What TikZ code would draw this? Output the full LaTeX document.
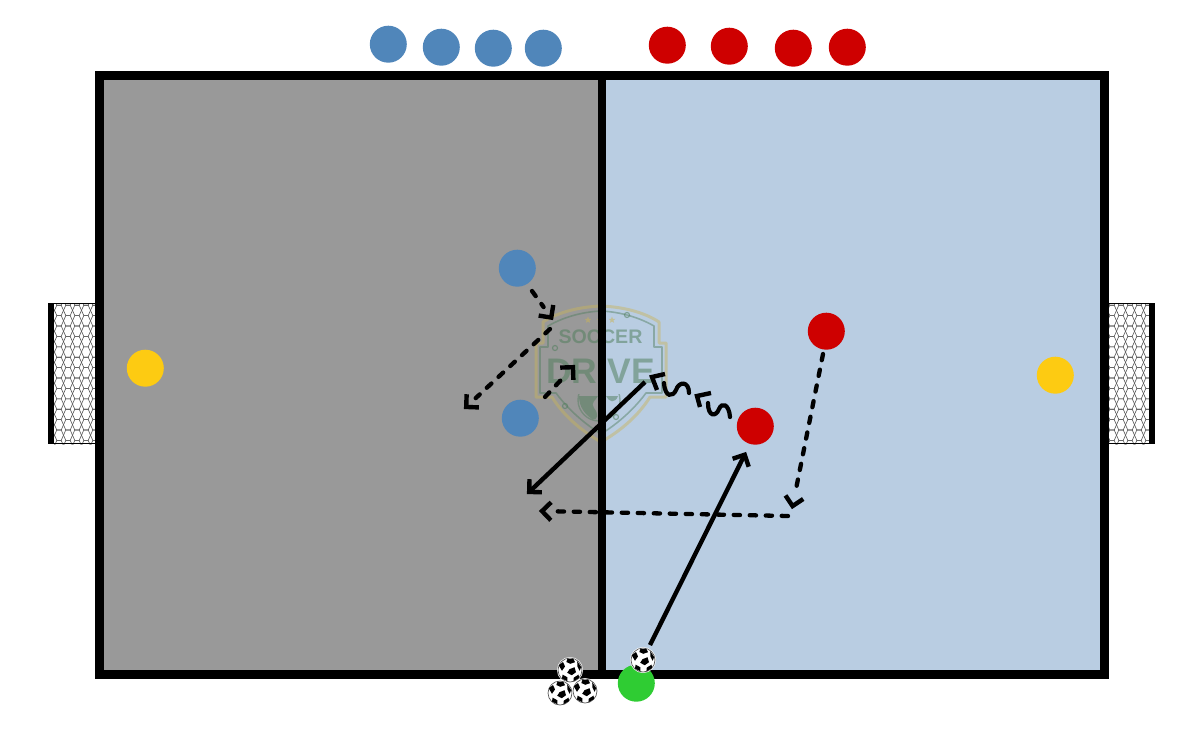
\documentclass[tikz,border=0pt]{standalone}
\usepackage{fontspec}
\setmainfont{Liberation Sans}
\usetikzlibrary{arrows.meta,shapes.geometric}
\definecolor{leftfield}{HTML}{999999}
\definecolor{rightfield}{HTML}{B9CDE2}
\definecolor{teamblue}{HTML}{5086BA}
\definecolor{teamred}{HTML}{CE0000}
\definecolor{keeper}{HTML}{FDCB12}
\definecolor{server}{HTML}{2FCC33}
\definecolor{logogold}{HTML}{C9B45A}
\definecolor{logogreen}{HTML}{4F7D5B}
\pgfdeclarearrow{
  name=ChevSolid,
  setup code={\pgfarrowssettipend{3pt}\pgfarrowssetlineend{-1.5pt}\pgfarrowssetvisualbackend{-9pt}\pgfarrowssetbackend{-10pt}},
  drawing code={\pgfsetdash{}{0pt}\pgfsetlinewidth{4.4pt}\pgfsetmiterjoin\pgfsetbuttcap
    \pgfpathmoveto{\pgfpoint{-9pt}{9pt}}\pgfpathlineto{\pgfpoint{0pt}{0pt}}\pgfpathlineto{\pgfpoint{-9pt}{-9pt}}\pgfusepathqstroke}
}
\pgfdeclarearrow{
  name=ChevDash,
  setup code={\pgfarrowssettipend{3pt}\pgfarrowssetlineend{-13pt}\pgfarrowssetvisualbackend{-9pt}\pgfarrowssetbackend{-10pt}},
  drawing code={\pgfsetdash{}{0pt}\pgfsetlinewidth{4.4pt}\pgfsetmiterjoin\pgfsetbuttcap
    \pgfpathmoveto{\pgfpoint{-9pt}{9pt}}\pgfpathlineto{\pgfpoint{0pt}{0pt}}\pgfpathlineto{\pgfpoint{-9pt}{-9pt}}\pgfusepathqstroke}
}
\tikzset{
  player/.style={circle,inner sep=0pt,minimum size=37pt,fill=#1,draw=none,xshift=.3pt,yshift=-.2pt},
  run/.style={line width=4.3pt,line cap=round,dash pattern=on 6.3pt off 9.7pt,-{ChevDash}},
  pass/.style={line width=4.4pt,-{ChevSolid}},
  dribble/.style={line width=4.2pt,line cap=round},
  barb/.style={line width=4.4pt,line join=miter},
  netline/.style={line width=0.6pt,draw=black!68},
  logoouter/.style={draw=logogold,line width=3pt,opacity=.45,line join=round},
  logoinner/.style={draw=logogreen,line width=1.6pt,opacity=.45,line join=round},
  logotext/.style={text=logogreen,text opacity=.52,inner sep=0pt},
  logostar/.style={star,star points=5,star point ratio=2.4,fill=logogold,opacity=.55,minimum size=7pt,inner sep=0pt},
  logodot/.style={circle,draw=logogreen,line width=1.2pt,opacity=.55,minimum size=5pt,inner sep=0pt},
  ball/.pic={
    \fill[white] (0,0) circle (13);
    \draw[black!65,line width=.7pt] (0,0) circle (12);
    \fill (-.5,-.8) -- (4.5,-2.8) -- (6,2.2) -- (1.8,5.2) -- (-2.8,2.8) -- cycle;
    \fill (-2.5,-11.3) -- (3.5,-11) -- (5,-7.8) -- (.3,-6.2) -- (-3.6,-8) -- cycle;
    \fill (7.2,-8.8) -- (11.2,-3) -- (9.6,.8) -- (7.4,-3.6) -- cycle;
    \fill (-11.2,-4.6) -- (-7,-8) -- (-5,-3.6) -- (-8,.8) -- cycle;
    \fill (-8,8.6) -- (-2.6,11.2) -- (-2.6,7.3) -- (-7.4,4.6) -- cycle;
    \fill (3.4,11.4) -- (9,8) -- (8.6,4.6) -- (3.8,7.6) -- cycle;
  }
}
\begin{document}
\begin{tikzpicture}[x=1pt,y=-1pt]
\useasboundingbox (0,0) rectangle (1200,750);
% fields
\fill[leftfield] (99,76) rectangle (602,674);
\fill[rightfield] (602,76) rectangle (1104,674);
% goals
\begin{scope}
  \clip (54,304) rectangle (96,444);
  \foreach \c in {0,...,6}{\foreach \r in {0,...,20}{
    \pgfmathsetmacro{\xx}{50+\c*9}
    \pgfmathsetmacro{\yy}{300+\r*10.4}
    \draw[netline] (\xx-4.5,\yy) -- (\xx-2.2,\yy-5.2) -- (\xx+2.2,\yy-5.2) -- (\xx+4.5,\yy) -- (\xx+2.2,\yy+5.2) -- (\xx-2.2,\yy+5.2) -- cycle;
  }}
\end{scope}
\begin{scope}
  \clip (1107,304) rectangle (1149,444);
  \foreach \c in {0,...,6}{\foreach \r in {0,...,20}{
    \pgfmathsetmacro{\xx}{1103+\c*9}
    \pgfmathsetmacro{\yy}{300+\r*10.4}
    \draw[netline] (\xx-4.5,\yy) -- (\xx-2.2,\yy-5.2) -- (\xx+2.2,\yy-5.2) -- (\xx+4.5,\yy) -- (\xx+2.2,\yy+5.2) -- (\xx-2.2,\yy+5.2) -- cycle;
  }}
\end{scope}
\fill (48,303) rectangle (54,444);
\fill (1149,303) rectangle (1154.5,444);
\draw[line width=1pt] (48,303.5) -- (96,303.5) (48,443.7) -- (96,443.7);
\draw[line width=1pt] (1107,303.5) -- (1154,303.5) (1107,443.7) -- (1154,443.7);
% logo
\draw[logoouter] (601,306) .. controls (575,307) and (555,314) .. (543,322) -- (543,343) -- (536,343) -- (536,397) -- (552,397) .. controls (565,418) and (585,433) .. (601,442) .. controls (617,433) and (637,418) .. (650,397) -- (666,397) -- (666,343) -- (659,343) -- (659,322) .. controls (647,314) and (627,307) .. (601,306) -- cycle;
\draw[logoinner] (601,311) .. controls (580,312) and (562,318) .. (548,326) -- (548,347) -- (540,347) -- (540,393) -- (556,393) .. controls (570,412) and (588,426) .. (601,434) .. controls (614,426) and (632,412) .. (646,393) -- (662,393) -- (662,347) -- (654,347) -- (654,326) .. controls (640,318) and (622,312) .. (601,311) -- cycle;
\begin{scope}
  \clip (570,394) rectangle (630,430);
  \draw[logoinner,line width=1.4pt] (599,400) circle (21);
  \fill[logogreen,opacity=.5] (579,396) .. controls (579,408) and (586,415) .. (592,419) .. controls (598,421) and (599,414) .. (594,408) .. controls (590,403) and (596,400) .. (598,396) -- cycle;
  \fill[logogreen,opacity=.5] (606,396) .. controls (609,402) and (615,404) .. (618,396) -- cycle;
\end{scope}
\node[logotext,font=\bfseries\fontsize{19.6}{20}\selectfont] (logoTop) at (600.5,336.5) {SOCCER};
\node[logotext,font=\bfseries\fontsize{35.5}{36}\selectfont] (logoMain) at (600.5,371) {DRIVE};
\node[logostar] (logoStarA) at (588,320) {};
\node[logostar] (logoStarB) at (600,320) {};
\node[logostar] (logoStarC) at (612,320) {};
\node[logodot] (logoDotA) at (627,315) {};
\node[logodot] (logoDotB) at (555,348) {};
\node[logodot] (logoDotC) at (565,406) {};
\node[logodot] (logoDotD) at (616,417) {};
% field frame
\draw[line width=9.2pt,line join=miter] (99.2,75.5) rectangle (1104.2,674.25);
\draw[line width=7.6pt] (602.2,76) -- (602.2,674);
% players
\foreach \n/\x/\y in {tb1/388/44,tb2/441/47,tb3/493/48,tb4/543/48,bA/517/268,bB/520/418}
  \node[player=teamblue] (\n) at (\x,\y) {};
\foreach \n/\x/\y in {tr1/667/45,tr2/729/46,tr3/793/48,tr4/847/47,rA/826/331,rB/755/426}
  \node[player=teamred] (\n) at (\x,\y) {};
\node[player=keeper] (kL) at (145,368) {};
\node[player=keeper] (kR) at (1055,375) {};
\node[player=server] (srv) at (636,683) {};
% balls
\pic at (570,670) {ball};
\pic at (560,693) {ball};
\pic at (585,691) {ball};
\pic at (643,660) {ball};
% connector ends
\coordinate (a1s) at (532,291);
\coordinate (a1) at (553,320);
\coordinate (a2s) at (550,329);
\coordinate (a2e) at (464,409);
\coordinate (a3s) at (545,397);
\coordinate (a3e) at (575,365);
\coordinate (p1s) at (645,382);
\coordinate (p1e) at (527,494);
\coordinate (p2s) at (650,645);
\coordinate (p2e) at (746,452);
\coordinate (r1s) at (823,354);
\coordinate (r1e) at (792,509);
\coordinate (r2s) at (788,516);
\coordinate (r2e) at (539,511);
% connectors
\draw[run] (a1s) -- (a1);
\draw[run] (a2s) -- (a2e);
\draw[run] (a3s) -- (a3e);
\draw[pass] (p1s) -- (p1e);
\draw[pass] (p2s) -- (p2e);
\draw[run] (r1s) -- (r1e);
\draw[run] (r2s) -- (r2e);
% dribble
\coordinate (d1) at (652,377); \coordinate (d1a) at (665,374); \coordinate (d1b) at (657,390);
\coordinate (d2) at (697,396); \coordinate (d2a) at (711,393); \coordinate (d2b) at (700,407);
\draw[barb] (d1a) -- (d1) -- (d1b);
\draw[barb] (d2a) -- (d2) -- (d2b);
\draw[dribble] (664,383) .. controls (665,398) and (673,397) .. (676,390) .. controls (679,381) and (689,381) .. (689,393);
\draw[dribble] (708,403) .. controls (708,417) and (716,417) .. (719,409) .. controls (722,402) and (729,404) .. (730,417);
\end{tikzpicture}
\end{document}
